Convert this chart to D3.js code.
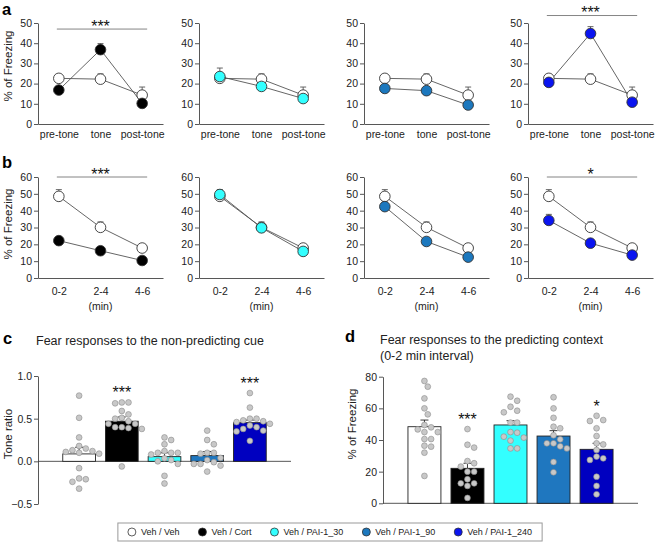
<!DOCTYPE html>
<html><head><meta charset="utf-8">
<script src="https://cdn.jsdelivr.net/npm/d3@7"></script>
<style>
body{margin:0;background:#fff}
text{font-family:"Liberation Sans",Arial,sans-serif;fill:#222}
</style>
</head><body>
<svg id="fig" width="658" height="542"></svg>
<script>
// ---------------- DATA ----------------
const groups = ["Veh / Veh","Veh / Cort","Veh / PAI-1_30","Veh / PAI-1_90","Veh / PAI-1_240"];
const pointColors = ["#ffffff","#000000","#33ffff","#1c78be","#0a14f0"];
const barColors = ["#ffffff","#000000","#33ffff","#1f77bf","#0000c0"];

const tonePhases = ["pre-tone","tone","post-tone"];
const ctxIntervals = ["0-2","2-4","4-6"];
const toneTicks = [0,10,20,30,40,50];
const ctxTicks = [0,10,20,30,40,50,60];

// panel a: tone test (% freezing)
const toneVehMean = [22.6, 22.2, 14.3];
const toneVehSem = [1.5, 2.6, 4.0];
const toneDrugMean = [[16.8,36.8,10.2],[23.5,18.6,12.6],[17.6,16.5,9.4],[20.6,44.8,10.8]];
const toneDrugSem = [[1.5,3.0,1.2],[4.2,1.5,1.5],[1.6,1.5,1.2],[1.5,3.4,1.5]];
const toneSig = ["***","","","***"];

// panel b: context test (% freezing)
const ctxVehMean = [48.5, 30.1, 17.8];
const ctxVehSem = [4.0, 3.2, 1.5];
const ctxDrugMean = [[22.2,16.2,10.4],[49.6,29.8,15.8],[42.4,21.7,12.4],[34.2,20.7,13.6]];
const ctxDrugSem = [[2.3,1.5,1.2],[2.5,2.5,1.5],[2.6,1.8,1.5],[3.6,1.8,1.5]];
const ctxSig = ["***","","","*"];

// panel c: tone ratio
const cueTicks = [-0.5,0,0.5,1.0];
const cueMean = [0.087,0.47,0.055,0.067,0.453];
const cueSem = [0.078,0.05,0.045,0.048,0.03];
const cueDots = [
 [0.77,0.51,0.28,0.18,0.15,0.13,0.12,0.10,0.11,0.09,-0.08,-0.20,-0.21,-0.24,-0.32],
 [0.69,0.68,0.69,0.59,0.55,0.51,0.50,0.47,0.44,0.44,0.40,0.40,0.39,0.38,-0.06],
 [0.25,0.28,0.20,0.12,0.10,0.08,0.10,0.10,0.035,0.00,-0.03,0.015,-0.17,-0.26],
 [0.36,0.25,0.20,0.10,0.09,0.10,0.04,-0.01,-0.03,0.015,-0.05,-0.12,-0.03],
 [0.80,0.63,0.50,0.50,0.48,0.47,0.46,0.44,0.42,0.40,0.36,0.35,0.38,0.24]
];
const cueSig = ["","***","","","***"];

// panel d: context 0-2 min
const ctxBarTicks = [0,20,40,60,80];
const ctxBarMean = [48.4,22.1,49.5,42.5,34.1];
const ctxBarSem = [4.2,3.2,2.7,3.4,3.8];
const ctxDots = [
 [77.3,73.7,66.3,60,56.2,49.5,48,46.7,45,45,40.6,40.6,36.4,35.8,32,17.3],
 [46.9,37,35.2,26.7,25.3,23.2,20,20,15.2,12.6,12.6,11,3.4],
 [67.4,64.8,61,58.5,57.5,51,51,45,44.6,42.1,41.5,39.6,34.7,34.7],
 [67,60,54,48.4,47.4,43,40.4,37.9,37.9,36,34.7,26.1,19.6],
 [55.3,52.6,52,47.4,42.5,37.9,37.2,33.7,29.5,28.4,27.4,16.8,11,5.7]
];
const ctxBarSig = ["","***","","","*"];

// ---------------- LAYOUT ----------------
const svg = d3.select("#fig");
const AX = "#444";
const subLeft = [38,199,364,528];
const subW = 125;

function styleAxis(g){
  g.selectAll("path,line").attr("stroke",AX).attr("stroke-width",0.9);
  g.selectAll("text").attr("fill","#222").style("font-size","10.5px").style("font-family","'Liberation Sans',Arial,sans-serif");
}

function linePanel(left, yTop, yBot, yMax, sigBase, ticks, cats, vehM, vehS, drM, drS, color, sig, showMin){
  const x = d3.scalePoint().domain(cats).range([left, left+subW]).padding(0.5);
  const y = d3.scaleLinear().domain([0,yMax]).range([yBot,yTop]);
  const g = svg.append("g");
  g.append("g").attr("transform",`translate(${left},0)`)
    .call(d3.axisLeft(y).tickValues(ticks).tickSize(4).tickSizeOuter(0).tickPadding(2))
    .call(styleAxis);
  g.append("g").attr("transform",`translate(0,${yBot})`)
    .call(d3.axisBottom(x).tickSize(0).tickSizeOuter(0).tickPadding(showMin?10:7))
    .call(styleAxis);
  if(showMin){
    g.append("text").attr("x",x(cats[1])).attr("y",yBot+32).attr("text-anchor","middle")
      .style("font-size","10.5px").text("(min)");
  }
  const line = d3.line().x((d,i)=>x(cats[i])).y(d=>y(d));
  const eb = (m,s)=>{
    m.forEach((v,i)=>{
      const cx=x(cats[i]);
      g.append("line").attr("x1",cx).attr("x2",cx).attr("y1",y(v)).attr("y2",y(v+s[i])).attr("stroke","#555").attr("stroke-width",0.9);
      g.append("line").attr("x1",cx-3).attr("x2",cx+3).attr("y1",y(v+s[i])).attr("y2",y(v+s[i])).attr("stroke","#555").attr("stroke-width",0.9);
    });
  };
  g.append("path").datum(vehM).attr("d",line).attr("fill","none").attr("stroke","#555").attr("stroke-width",0.9);
  g.append("path").datum(drM).attr("d",line).attr("fill","none").attr("stroke","#555").attr("stroke-width",0.9);
  eb(vehM,vehS); eb(drM,drS);
  g.selectAll(null).data(vehM).enter().append("circle")
    .attr("cx",(d,i)=>x(cats[i])).attr("cy",d=>y(d)).attr("r",5.3)
    .attr("fill","#fff").attr("stroke","#333").attr("stroke-width",0.9);
  g.selectAll(null).data(drM).enter().append("circle")
    .attr("cx",(d,i)=>x(cats[i])).attr("cy",d=>y(d)).attr("r",5.3)
    .attr("fill",color).attr("stroke","#333").attr("stroke-width",0.9);
  if(sig){
    const maxTop = d3.max(drM.map((v,i)=>v+drS[i]).concat(vehM.map((v,i)=>v+vehS[i])));
    const level = Math.max(sigBase, maxTop+5.5);
    const ly = y(level);
    g.append("line").attr("x1",x(cats[0])-2).attr("x2",x(cats[2])+5).attr("y1",ly).attr("y2",ly)
      .attr("stroke","#777").attr("stroke-width",0.9);
    g.append("text").attr("x",x(cats[1])).attr("y",ly+2.6).attr("text-anchor","middle")
      .style("font-size","16px").style("fill","#111").text(sig);
  }
}

for(let k=0;k<4;k++){
  linePanel(subLeft[k],23,124,50,47,toneTicks,tonePhases,toneVehMean,toneVehSem,toneDrugMean[k],toneDrugSem[k],pointColors[k+1],toneSig[k],false);
  linePanel(subLeft[k],177,278,60,60,ctxTicks,ctxIntervals,ctxVehMean,ctxVehSem,ctxDrugMean[k],ctxDrugSem[k],pointColors[k+1],ctxSig[k],true);
}

function yLabel(x,y,t){
  svg.append("text").attr("transform",`translate(${x},${y}) rotate(-90)`).attr("text-anchor","middle")
    .style("font-size","11.5px").text(t);
}
yLabel(12,66,"% of Freezing");
yLabel(12,224,"% of Freezing");
yLabel(12,434,"Tone ratio");
yLabel(356,424,"% of Freezing");

[["a",2,15],["b",2,168],["c",3,344],["d",345,342]].forEach(([t,x,y])=>{
  svg.append("text").attr("x",x).attr("y",y).style("font-size","16.5px").style("font-weight","bold").style("fill","#000").text(t);
});

svg.append("text").attr("x",36).attr("y",345).style("font-size","12.5px").text("Fear responses to the non-predicting cue");
svg.append("text").attr("x",380).attr("y",344).style("font-size","12.5px").text("Fear responses to the predicting context");
svg.append("text").attr("x",380).attr("y",360).style("font-size","12.5px").text("(0-2 min interval)");

function swarm(vals, y, cx, r){
  const placed=[];
  const order = vals.map((v,i)=>i).sort((a,b)=>vals[b]-vals[a]);
  order.forEach(i=>{
    const cy=y(vals[i]);
    let px=cx;
    for(let t=0;t<40;t++){
      const off = (t===0?0:(t%2? 1:-1)*Math.ceil(t/2)*r*1.15);
      const tx=cx+off;
      if(placed.every(p=>Math.hypot(p[0]-tx,p[1]-cy)>=2*r+0.8)){px=tx;break;}
    }
    placed.push([px,cy]);
  });
  return placed;
}

function barPanel(x0,x1,yDomain,yRange,ticks,fmt,means,sems,dots,sig){
  const x = d3.scaleBand().domain(d3.range(means.length)).range([x0,x1]).paddingInner(0.234).paddingOuter(0.58);
  const y = d3.scaleLinear().domain(yDomain).range(yRange);
  const g = svg.append("g");
  g.append("g").attr("transform",`translate(${x0},0)`)
    .call(d3.axisLeft(y).tickValues(ticks).tickFormat(fmt).tickSize(4).tickSizeOuter(0).tickPadding(2))
    .call(styleAxis);
  g.append("line").attr("x1",x0).attr("x2",x1).attr("y1",y(0)).attr("y2",y(0)).attr("stroke",AX).attr("stroke-width",0.9);
  means.forEach((m,i)=>{
    const bx=x(i), bw=x.bandwidth();
    g.append("rect").attr("x",bx).attr("y",Math.min(y(m),y(0))).attr("width",bw).attr("height",Math.abs(y(0)-y(m)))
      .attr("fill",barColors[i]).attr("stroke","#222").attr("stroke-width",0.9);
    const cx=bx+bw/2, top=y(m+sems[i]);
    g.append("line").attr("x1",cx).attr("x2",cx).attr("y1",y(m)).attr("y2",top).attr("stroke","#222").attr("stroke-width",0.9);
    g.append("line").attr("x1",cx-4).attr("x2",cx+4).attr("y1",top).attr("y2",top).attr("stroke","#222").attr("stroke-width",0.9);
  });
  dots.forEach((vals,i)=>{
    const cx=x(i)+x.bandwidth()/2;
    const pts=swarm(vals,y,cx,2.9);
    g.selectAll(null).data(pts).enter().append("circle")
      .attr("cx",d=>d[0]).attr("cy",d=>d[1]).attr("r",2.9)
      .attr("fill","#c8c8c8").attr("stroke","#8c8c8c").attr("stroke-width",0.6);
    if(sig[i]){
      g.append("text").attr("x",cx).attr("y",y(d3.max(vals))-4).attr("text-anchor","middle")
        .style("font-size","16px").style("fill","#111").text(sig[i]);
    }
  });
}

barPanel(38,291,[-0.5,1.0],[504,376],cueTicks,d3.format(".1f"),cueMean,cueSem,cueDots,cueSig);
barPanel(383,638,[0,80],[503.3,376.7],ctxBarTicks,d3.format("d"),ctxBarMean,ctxBarSem,ctxDots,ctxBarSig);

// legend
const lg = svg.append("g");
const items = lg.selectAll("g").data(groups).enter().append("g");
items.append("circle").attr("r",4).attr("cy",0).attr("fill",(d,i)=>pointColors[i]).attr("stroke","#333").attr("stroke-width",0.8);
items.append("text").attr("x",9).attr("y",3.3).style("font-size","9px").text(d=>d);
const offs=[]; let cursor=0;
items.each(function(){
  offs.push(cursor);
  cursor += 9 + d3.select(this).select("text").node().getComputedTextLength() + 23;
});
const total = cursor-23+4;
const startX = 330 - total/2 + 4;
items.attr("transform",(d,i)=>`translate(${startX+offs[i]},532)`);
lg.insert("rect",":first-child").attr("x",330-total/2-10).attr("y",523).attr("width",total+20).attr("height",18)
  .attr("fill","#fff").attr("stroke","#999").attr("stroke-width",1);
</script>
</body></html>
